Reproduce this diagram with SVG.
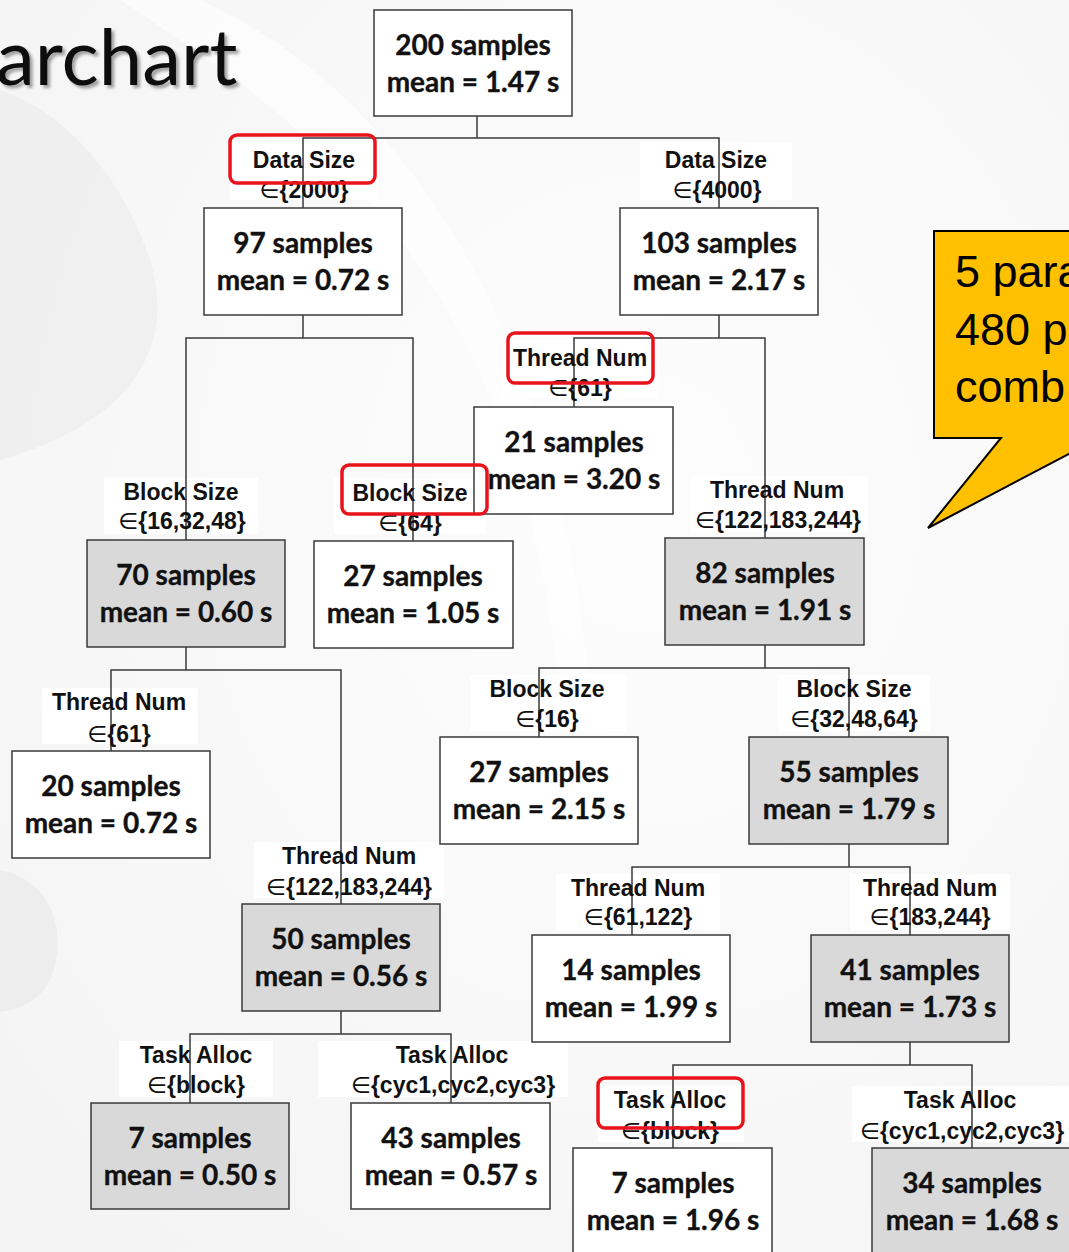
<svg xmlns="http://www.w3.org/2000/svg" width="1069" height="1252" viewBox="0 0 1069 1252">
  <defs>
    <filter id="titleShadow" x="-10%" y="-20%" width="130%" height="150%">
      <feDropShadow dx="3" dy="3" stdDeviation="1.5" flood-color="#000" flood-opacity="0.35"/>
    </filter>
    <radialGradient id="bgGlow" cx="0.6" cy="0.4" r="0.8">
      <stop offset="0" stop-color="#fdfdfd"/>
      <stop offset="1" stop-color="#f4f4f4"/>
    </radialGradient>
  </defs>
  <style>
    .box { stroke: #3a3a3a; stroke-width: 1.5; }
    .leaf { fill: #ffffff; }
    .split { fill: #d9d9d9; }
    .node-text { font-family: Lato, "Open Sans", sans-serif; font-weight: 700; font-size: 28px; fill: #111; text-anchor: middle; stroke: #111; stroke-width: 0.35; }
    .cond-bg { fill: #ffffff; }
    .cond { font-family: "Liberation Sans", Arial, "DejaVu Sans", sans-serif; font-weight: 700; font-size: 23px; fill: #111; text-anchor: middle; }
    .elem { font-family: "DejaVu Sans", sans-serif; font-weight: 400; }
    .edge { fill: none; stroke: #3a3a3a; stroke-width: 1.5; }
    .mark { fill: none; stroke: #e8131b; stroke-width: 3.5; }
    .callout { fill: #ffc000; stroke: #000; stroke-width: 2; }
    .callout-text { font-family: "Liberation Sans", Arial, sans-serif; font-size: 45px; fill: #000; }
    .title { font-family: Lato, "Open Sans", sans-serif; font-size: 78px; fill: #111; }
  </style>

  <!-- slide background with faint swirl -->
  <rect width="1069" height="1252" fill="url(#bgGlow)"/>
  <path d="M0,90 C60,110 120,170 150,260 C175,340 140,420 0,460 Z" fill="#ececec" opacity="0.7"/>
  <path d="M0,870 C50,880 70,930 50,980 C40,1000 20,1010 0,1012 Z" fill="#ebebeb" opacity="0.8"/>
  <path d="M120,0 C300,120 520,260 560,700 L590,700 C560,300 380,80 200,0 Z" fill="#ffffff" opacity="0.6"/>

  <!-- page title -->
  <text class="title" x="-4" y="85" filter="url(#titleShadow)">archart</text>

  <!-- condition label backgrounds -->
  <g id="label-backgrounds">
    <rect class="cond-bg" x="230" y="142" width="148" height="58"/>
    <rect class="cond-bg" x="640" y="142" width="152" height="58"/>
    <rect class="cond-bg" x="502" y="340" width="156" height="58"/>
    <rect class="cond-bg" x="104" y="478" width="154" height="56"/>
    <rect class="cond-bg" x="334" y="478" width="152" height="56"/>
    <rect class="cond-bg" x="690" y="476" width="178" height="56"/>
    <rect class="cond-bg" x="42" y="688" width="156" height="56"/>
    <rect class="cond-bg" x="470" y="675" width="156" height="56"/>
    <rect class="cond-bg" x="778" y="675" width="152" height="56"/>
    <rect class="cond-bg" x="254" y="842" width="190" height="56"/>
    <rect class="cond-bg" x="556" y="874" width="164" height="56"/>
    <rect class="cond-bg" x="850" y="874" width="160" height="56"/>
    <rect class="cond-bg" x="119" y="1041" width="154" height="56"/>
    <rect class="cond-bg" x="318" y="1041" width="250" height="56"/>
    <rect class="cond-bg" x="598" y="1086" width="146" height="56"/>
    <rect class="cond-bg" x="852" y="1086" width="217" height="56"/>
  </g>

  <!-- tree connectors -->
  <g id="connectors">
    <path class="edge" d="M477,116 V138 M303,208 V138 H719 V208"/>
    <path class="edge" d="M303,315 V338 M186,540 V338 H413 V541"/>
    <path class="edge" d="M719,315 V338 M574,407 V338 H765 V538"/>
    <path class="edge" d="M186,647 V670 M111,751 V670 H341 V904"/>
    <path class="edge" d="M765,645 V668 M539,737 V668 H849 V737"/>
    <path class="edge" d="M849,844 V867 M632,935 V867 H910 V935"/>
    <path class="edge" d="M341,1011 V1034 M190,1103 V1034 H451 V1103"/>
    <path class="edge" d="M910,1042 V1065 M673,1148 V1065 H972 V1148"/>
  </g>

  <!-- split conditions -->
  <g id="conditions">
    <text class="cond" x="304" y="168">Data Size</text>
    <text class="cond" x="304" y="198"><tspan class="elem">∈</tspan>{2000}</text>
    <text class="cond" x="716" y="168">Data Size</text>
    <text class="cond" x="717" y="198"><tspan class="elem">∈</tspan>{4000}</text>
    <text class="cond" x="580" y="366">Thread Num</text>
    <text class="cond" x="580" y="396"><tspan class="elem">∈</tspan>{61}</text>
    <text class="cond" x="181" y="500">Block Size</text>
    <text class="cond" x="182" y="529"><tspan class="elem">∈</tspan>{16,32,48}</text>
    <text class="cond" x="410" y="501">Block Size</text>
    <text class="cond" x="410" y="531"><tspan class="elem">∈</tspan>{64}</text>
    <text class="cond" x="777" y="498">Thread Num</text>
    <text class="cond" x="778" y="528"><tspan class="elem">∈</tspan>{122,183,244}</text>
    <text class="cond" x="119" y="710">Thread Num</text>
    <text class="cond" x="119" y="742"><tspan class="elem">∈</tspan>{61}</text>
    <text class="cond" x="547" y="697">Block Size</text>
    <text class="cond" x="547" y="727"><tspan class="elem">∈</tspan>{16}</text>
    <text class="cond" x="854" y="697">Block Size</text>
    <text class="cond" x="854" y="727"><tspan class="elem">∈</tspan>{32,48,64}</text>
    <text class="cond" x="349" y="864">Thread Num</text>
    <text class="cond" x="349" y="895"><tspan class="elem">∈</tspan>{122,183,244}</text>
    <text class="cond" x="638" y="896">Thread Num</text>
    <text class="cond" x="638" y="925"><tspan class="elem">∈</tspan>{61,122}</text>
    <text class="cond" x="930" y="896">Thread Num</text>
    <text class="cond" x="930" y="925"><tspan class="elem">∈</tspan>{183,244}</text>
    <text class="cond" x="196" y="1063">Task Alloc</text>
    <text class="cond" x="196" y="1093"><tspan class="elem">∈</tspan>{block}</text>
    <text class="cond" x="452" y="1063">Task Alloc</text>
    <text class="cond" x="453" y="1093"><tspan class="elem">∈</tspan>{cyc1,cyc2,cyc3}</text>
    <text class="cond" x="670" y="1108">Task Alloc</text>
    <text class="cond" x="670" y="1139"><tspan class="elem">∈</tspan>{block}</text>
    <text class="cond" x="960" y="1108">Task Alloc</text>
    <text class="cond" x="962" y="1139"><tspan class="elem">∈</tspan>{cyc1,cyc2,cyc3}</text>
  </g>

  <!-- tree nodes -->
  <g id="n200">
    <rect class="box leaf" x="374" y="10" width="198" height="106"/>
    <text class="node-text" x="473" y="55">200 samples</text>
    <text class="node-text" x="473" y="92">mean = 1.47 s</text>
  </g>
  <g id="n97">
    <rect class="box leaf" x="204" y="208" width="198" height="107"/>
    <text class="node-text" x="303" y="253">97 samples</text>
    <text class="node-text" x="303" y="290">mean = 0.72 s</text>
  </g>
  <g id="n103">
    <rect class="box leaf" x="620" y="208" width="198" height="107"/>
    <text class="node-text" x="719" y="253">103 samples</text>
    <text class="node-text" x="719" y="290">mean = 2.17 s</text>
  </g>
  <g id="n21">
    <rect class="box leaf" x="474" y="407" width="199" height="107"/>
    <text class="node-text" x="574" y="452">21 samples</text>
    <text class="node-text" x="574" y="489">mean = 3.20 s</text>
  </g>
  <g id="n70">
    <rect class="box split" x="87" y="540" width="198" height="107"/>
    <text class="node-text" x="186" y="585">70 samples</text>
    <text class="node-text" x="186" y="622">mean = 0.60 s</text>
  </g>
  <g id="n27a">
    <rect class="box leaf" x="314" y="541" width="199" height="107"/>
    <text class="node-text" x="413" y="586">27 samples</text>
    <text class="node-text" x="413" y="623">mean = 1.05 s</text>
  </g>
  <g id="n82">
    <rect class="box split" x="665" y="538" width="199" height="107"/>
    <text class="node-text" x="765" y="583">82 samples</text>
    <text class="node-text" x="765" y="620">mean = 1.91 s</text>
  </g>
  <g id="n20">
    <rect class="box leaf" x="12" y="751" width="198" height="107"/>
    <text class="node-text" x="111" y="796">20 samples</text>
    <text class="node-text" x="111" y="833">mean = 0.72 s</text>
  </g>
  <g id="n27b">
    <rect class="box leaf" x="440" y="737" width="198" height="107"/>
    <text class="node-text" x="539" y="782">27 samples</text>
    <text class="node-text" x="539" y="819">mean = 2.15 s</text>
  </g>
  <g id="n55">
    <rect class="box split" x="749" y="737" width="199" height="107"/>
    <text class="node-text" x="849" y="782">55 samples</text>
    <text class="node-text" x="849" y="819">mean = 1.79 s</text>
  </g>
  <g id="n50">
    <rect class="box split" x="242" y="904" width="198" height="107"/>
    <text class="node-text" x="341" y="949">50 samples</text>
    <text class="node-text" x="341" y="986">mean = 0.56 s</text>
  </g>
  <g id="n14">
    <rect class="box leaf" x="532" y="935" width="198" height="107"/>
    <text class="node-text" x="631" y="980">14 samples</text>
    <text class="node-text" x="631" y="1017">mean = 1.99 s</text>
  </g>
  <g id="n41">
    <rect class="box split" x="811" y="935" width="198" height="107"/>
    <text class="node-text" x="910" y="980">41 samples</text>
    <text class="node-text" x="910" y="1017">mean = 1.73 s</text>
  </g>
  <g id="n7a">
    <rect class="box split" x="91" y="1103" width="198" height="106"/>
    <text class="node-text" x="190" y="1148">7 samples</text>
    <text class="node-text" x="190" y="1185">mean = 0.50 s</text>
  </g>
  <g id="n43">
    <rect class="box leaf" x="351" y="1103" width="199" height="106"/>
    <text class="node-text" x="451" y="1148">43 samples</text>
    <text class="node-text" x="451" y="1185">mean = 0.57 s</text>
  </g>
  <g id="n7b">
    <rect class="box leaf" x="573" y="1148" width="199" height="110"/>
    <text class="node-text" x="673" y="1193">7 samples</text>
    <text class="node-text" x="673" y="1230">mean = 1.96 s</text>
  </g>
  <g id="n34">
    <rect class="box split" x="872" y="1148" width="199" height="110"/>
    <text class="node-text" x="972" y="1193">34 samples</text>
    <text class="node-text" x="972" y="1230">mean = 1.68 s</text>
  </g>

  <!-- highlighted split variables -->
  <g id="highlights">
    <rect class="mark" x="230" y="135" width="145" height="48" rx="7"/>
    <rect class="mark" x="508" y="333" width="145" height="50" rx="7"/>
    <rect class="mark" x="342" y="465" width="145" height="49" rx="7"/>
    <rect class="mark" x="598" y="1078" width="145" height="50" rx="7"/>
  </g>

  <!-- callout -->
  <g id="callout">
    <path class="callout" d="M934,231 L1080,231 L1080,448 L928,528 L1001,438 L934,438 Z"/>
    <text class="callout-text" x="955" y="287">5 para</text>
    <text class="callout-text" x="955" y="345">480 p</text>
    <text class="callout-text" x="955" y="402">comb</text>
  </g>
</svg>
